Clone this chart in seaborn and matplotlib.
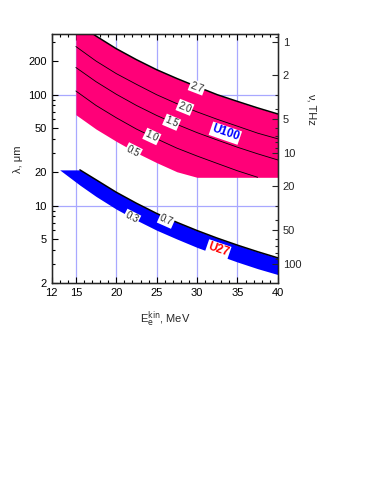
import numpy as np
import pandas as pd
import matplotlib
matplotlib.use("Agg")
import matplotlib.pyplot as plt
import matplotlib.ticker as mticker
import seaborn as sns

# U100 band: wavelength (um) of the K contours vs electron energy (MeV)
u100_x = [15, 17.5, 20, 22.5, 25, 27.5, 30, 32.5, 35, 37.5, 40]
u100_k27 = [455, 338, 260, 207, 168, 140, 118, 100, 87, 76, 67]
u100_k20 = [272, 201, 155, 124, 100, 83, 70, 60, 52, 45, 40]
u100_k15 = [176, 131, 101, 80, 65, 54, 45.5, 39, 33.6, 29.3, 25.8]
u100_k10 = [108, 80, 62, 49, 40, 33, 28, 24, 20.6, 18.0]
u100_k05 = [66, 49, 38, 30, 24.4, 20.2, 18]
u100_floor = 18

# U27 band
u27_x = [13, 15.5, 17.5, 20, 22.5, 25, 27.5, 30, 32.5, 35, 37.5, 40]
u27_hi = [21, 21, 17.1, 13.2, 10.5, 8.5, 7.07, 5.96, 5.09, 4.40, 3.84, 3.38]
u27_lo = [21, 15.3, 12.1, 9.3, 7.4, 6.0, 5.0, 4.2, 3.6, 3.1, 2.7, 2.39]

# contour labels: text, x, y, rotation
k_labels = [("2.7", 30, 117, -21), ("2.0", 28.5, 77, -22), ("1.5", 26.85, 56.5, -23),
            ("1.0", 24.4, 42, -25), ("0.5", 22.1, 31, -27),
            ("0.3", 21.9, 7.8, -27), ("0.7", 26.2, 7.4, -24)]

sns.set_style("ticks")
plt.rcParams['font.family'] = ['Liberation Sans', 'DejaVu Sans']

fig = plt.figure(figsize=(3.74, 4.84), dpi=100)
ax = fig.add_axes([0.138, 0.415, 0.605, 0.514])
ax.set_yscale("log")
ax.set_xlim(12, 40)
ax.set_ylim(2, 350)

# grid
for gx in [15, 20, 25, 30, 35]:
    ax.axvline(gx, color="#a8a8ff", lw=0.9, zorder=0)
for gy in [10, 100]:
    ax.axhline(gy, color="#a8a8ff", lw=0.9, zorder=0)

# U100 fill
lower = u100_k05 + [u100_floor] * (len(u100_x) - len(u100_k05))
ax.fill_between(u100_x, lower, u100_k27, color="#ff0078", lw=0, zorder=1)
sns.lineplot(x=u100_x, y=u100_k27, color="black", lw=1.1, ax=ax, zorder=2)
sns.lineplot(x=u100_x, y=u100_k20, color="black", lw=0.6, ax=ax, zorder=2)
sns.lineplot(x=u100_x, y=u100_k15, color="black", lw=0.6, ax=ax, zorder=2)
sns.lineplot(x=u100_x[:len(u100_k10)], y=u100_k10, color="black", lw=0.6, ax=ax, zorder=2)

# U27 fill
ax.fill_between(u27_x, u27_lo, u27_hi, color="#0000ff", lw=0, zorder=1)
sns.lineplot(x=u27_x[1:], y=u27_hi[1:], color="black", lw=1.1, ax=ax, zorder=2)

box = dict(facecolor="white", edgecolor="none", pad=0.8)
for txt, lx, ly, rot in k_labels:
    ax.text(lx, ly, txt, fontsize=7, rotation=rot, ha="center", va="center",
            bbox=box, zorder=4)
ax.text(33.5, 45, "U100", fontsize=8.5, fontweight="bold", color="#0000ff", rotation=-19,
        ha="center", va="center", bbox=box, zorder=4)
ax.text(32.6, 4.0, "U27", fontsize=8.5, fontweight="bold", color="#ff0000", rotation=-19,
        ha="center", va="center", bbox=box, zorder=4)

# axes ticks
ax.set_xticks([12, 15, 20, 25, 30, 35, 40])
ax.xaxis.set_minor_locator(mticker.MultipleLocator(1))
ax.yaxis.set_major_locator(mticker.FixedLocator([2, 5, 10, 20, 50, 100, 200]))
ax.yaxis.set_major_formatter(mticker.FormatStrFormatter("%g"))
ax.yaxis.set_minor_locator(mticker.LogLocator(subs=np.arange(2, 10)))
ax.yaxis.set_minor_formatter(mticker.NullFormatter())
ax.tick_params(which="both", direction="in", top=True, labelsize=8, width=0.8, colors="black")
ax.tick_params(which="major", length=4)
ax.tick_params(which="minor", length=2)
for sp in ax.spines.values():
    sp.set_linewidth(1.0)
    sp.set_color("black")

ax.set_xlabel(r"E$_\mathrm{e}^\mathrm{kin}$, MeV", fontsize=8, labelpad=8)
ax.set_ylabel("λ, μm", fontsize=8, labelpad=4)

# frequency axis on the right
c = 299.79
ax2 = ax.twinx()
ax2.set_yscale("log")
ax2.set_ylim(c / 2, c / 350)
ax2.yaxis.set_major_locator(mticker.FixedLocator([1, 2, 5, 10, 20, 50, 100]))
ax2.yaxis.set_major_formatter(mticker.FormatStrFormatter("%g"))
ax2.yaxis.set_minor_locator(mticker.LogLocator(subs=np.arange(2, 10)))
ax2.yaxis.set_minor_formatter(mticker.NullFormatter())
ax2.tick_params(which="both", direction="in", labelsize=8, width=0.8)
ax2.tick_params(which="major", length=4)
ax2.tick_params(which="minor", length=2)
ax2.set_ylabel("ν, THz", fontsize=8, rotation=-90, va="center")
ax2.yaxis.set_label_coords(1.15, 0.70)

fig.savefig("out.png", dpi=100)
